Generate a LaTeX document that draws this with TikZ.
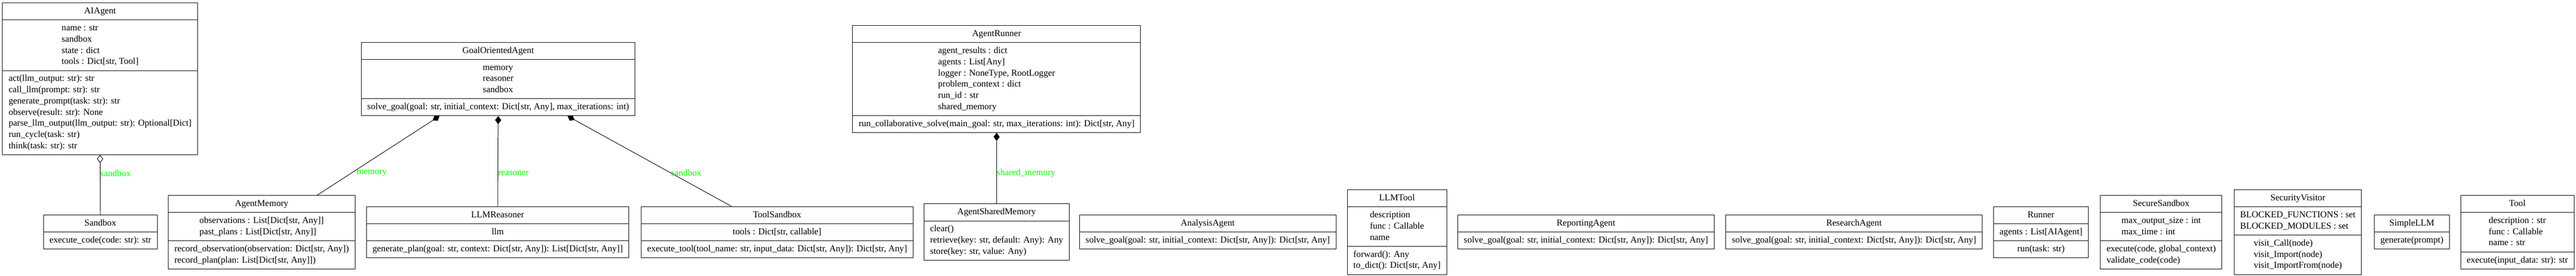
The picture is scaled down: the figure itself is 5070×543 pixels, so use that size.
\documentclass[tikz,border=0pt]{standalone}
\usepackage{fontspec}
\setmainfont{Liberation Serif}
\usetikzlibrary{shapes.multipart,arrows.meta}
\definecolor{rolegreen}{HTML}{00FF00}
\newcommand{\umlrows}[1]{\begin{tabular}{@{}l@{}}#1\end{tabular}}

\begin{document}
\begin{tikzpicture}[
            x=1pt,
            y=-1pt,
            umlclass/.style={
                rectangle split,
                rectangle split parts=3,
                anchor=north,
                draw=black,
                line width=1pt,
                inner xsep=12pt,
                inner ysep=5.25pt,
                font=\fontsize{17.85pt}{22pt}\selectfont
            },
            umlclasstwo/.style={
                umlclass,
                rectangle split parts=2
            },
            composition/.style={
                line width=1pt,
                arrows={Diamond[length=16pt,width=12pt]-}
            },
            aggregation/.style={
                line width=1pt,
                arrows={Diamond[open,length=16pt,width=12pt]-}
            },
            rolelabel/.style={
                anchor=west,
                inner sep=0pt,
                text=rolegreen,
                font=\fontsize{17.85pt}{22pt}\selectfont
            }
        ]
            \useasboundingbox (0,0) rectangle (5070,543);

            % Define nodes (top row)
            \node[umlclass] (aiagent) at (197,5.5) {\umlrows{AIAgent}
                \nodepart{two}\umlrows{name : str\\ sandbox\\ state : dict\\ tools : Dict[str, Tool]}
                \nodepart{three}\umlrows{act(llm\_output: str): str\\ call\_llm(prompt: str): str\\ generate\_prompt(task: str): str\\ observe(result: str): None\\ parse\_llm\_output(llm\_output: str): Optional[Dict]\\ run\_cycle(task: str)\\ think(task: str): str}};
            \node[umlclass] (goalagent) at (980.5,83) {\umlrows{GoalOrientedAgent}
                \nodepart{two}\umlrows{memory\\ reasoner\\ sandbox}
                \nodepart{three}\umlrows{solve\_goal(goal: str, initial\_context: Dict[str, Any], max\_iterations: int)}};
            \node[umlclass] (agentrunner) at (1961.5,50) {\umlrows{AgentRunner}
                \nodepart{two}\umlrows{agent\_results : dict\\ agents : List[Any]\\ logger : NoneType, RootLogger\\ problem\_context : dict\\ run\_id : str\\ shared\_memory}
                \nodepart{three}\umlrows{run\_collaborative\_solve(main\_goal: str, max\_iterations: int): Dict[str, Any]}};

            % Define nodes (bottom row)
            \node[umlclasstwo] (sandbox) at (197.5,423) {\umlrows{Sandbox}
                \nodepart{two}\umlrows{execute\_code(code: str): str}};
            \node[umlclass] (memory) at (515,384.5) {\umlrows{AgentMemory}
                \nodepart{two}\umlrows{observations : List[Dict[str, Any]]\\ past\_plans : List[Dict[str, Any]]}
                \nodepart{three}\umlrows{record\_observation(observation: Dict[str, Any])\\ record\_plan(plan: List[Dict[str, Any]])}};
            \node[umlclass] (reasoner) at (979.5,406.5) {\umlrows{LLMReasoner}
                \nodepart{two}\umlrows{llm}
                \nodepart{three}\umlrows{generate\_plan(goal: str, context: Dict[str, Any]): List[Dict[str, Any]]}};
            \node[umlclass] (toolsandbox) at (1529.5,406.5) {\umlrows{ToolSandbox}
                \nodepart{two}\umlrows{tools : Dict[str, callable]}
                \nodepart{three}\umlrows{execute\_tool(tool\_name: str, input\_data: Dict[str, Any]): Dict[str, Any]}};
            \node[umlclasstwo] (sharedmemory) at (1961.5,401) {\umlrows{AgentSharedMemory}
                \nodepart{two}\umlrows{clear()\\ retrieve(key: str, default: Any): Any\\ store(key: str, value: Any)}};
            \node[umlclasstwo] (analysis) at (2377,423) {\umlrows{AnalysisAgent}
                \nodepart{two}\umlrows{solve\_goal(goal: str, initial\_context: Dict[str, Any]): Dict[str, Any]}};
            \node[umlclass] (llmtool) at (2749.5,373.5) {\umlrows{LLMTool}
                \nodepart{two}\umlrows{description\\ func : Callable\\ name}
                \nodepart{three}\umlrows{forward(): Any\\ to\_dict(): Dict[str, Any]}};
            \node[umlclasstwo] (reporting) at (3121.5,423) {\umlrows{ReportingAgent}
                \nodepart{two}\umlrows{solve\_goal(goal: str, initial\_context: Dict[str, Any]): Dict[str, Any]}};
            \node[umlclasstwo] (research) at (3649,423) {\umlrows{ResearchAgent}
                \nodepart{two}\umlrows{solve\_goal(goal: str, initial\_context: Dict[str, Any]): Dict[str, Any]}};
            \node[umlclass] (runner) at (4017,406.5) {\umlrows{Runner}
                \nodepart{two}\umlrows{agents : List[AIAgent]}
                \nodepart{three}\umlrows{run(task: str)}};
            \node[umlclass] (securesandbox) at (4253.5,384.5) {\umlrows{SecureSandbox}
                \nodepart{two}\umlrows{max\_output\_size : int\\ max\_time : int}
                \nodepart{three}\umlrows{execute(code, global\_context)\\ validate\_code(code)}};
            \node[umlclass] (visitor) at (4522.5,373.5) {\umlrows{SecurityVisitor}
                \nodepart{two}\umlrows{BLOCKED\_FUNCTIONS : set\\ BLOCKED\_MODULES : set}
                \nodepart{three}\umlrows{visit\_Call(node)\\ visit\_Import(node)\\ visit\_ImportFrom(node)}};
            \node[umlclasstwo] (simplellm) at (4747,423) {\umlrows{SimpleLLM}
                \nodepart{two}\umlrows{generate(prompt)}};
            \node[umlclass] (tool) at (4954.5,384.5) {\umlrows{Tool}
                \nodepart{two}\umlrows{description : str\\ func : Callable\\ name : str}
                \nodepart{three}\umlrows{execute(input\_data: str): str}};

            % Draw edges
            \draw[aggregation] (aiagent.south) -- node[rolelabel, pos=0.31] {sandbox} (sandbox.north);
            \draw[composition] ([xshift=-115.5pt]goalagent.south) -- node[rolelabel, pos=0.72, xshift=10pt] {memory} ([xshift=109pt]memory.north);
            \draw[composition] (goalagent.south) -- node[rolelabel, pos=0.63] {reasoner} (reasoner.north);
            \draw[composition] ([xshift=136.5pt]goalagent.south) -- node[rolelabel, pos=0.63] {sandbox} ([xshift=-89.5pt]toolsandbox.north);
            \draw[composition] (agentrunner.south) -- node[rolelabel, pos=0.57] {shared\_memory} (sharedmemory.north);
        \end{tikzpicture}
\end{document}
